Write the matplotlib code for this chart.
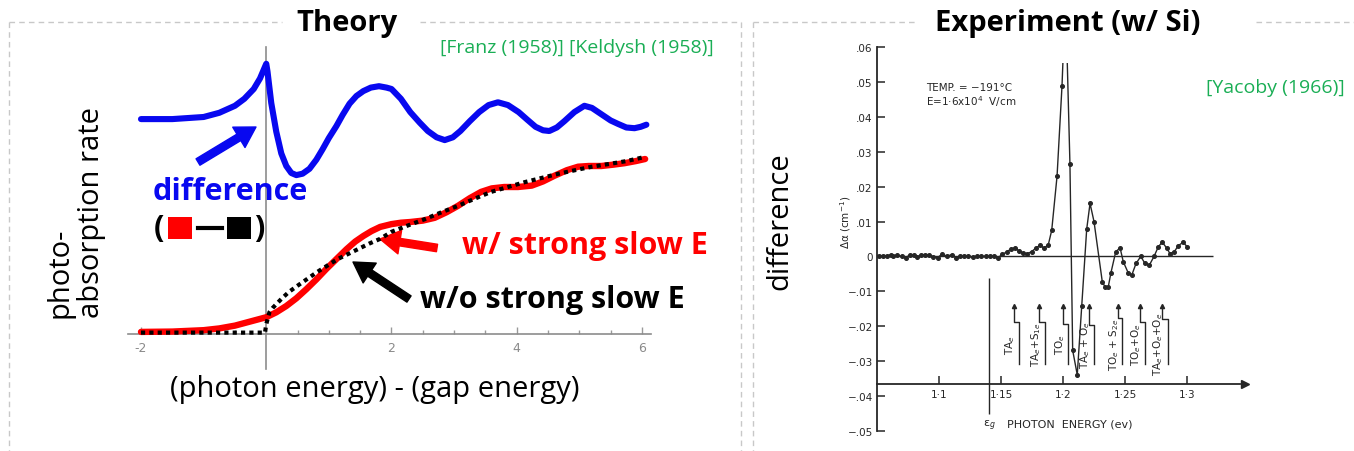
import numpy as np
import matplotlib
matplotlib.use('Agg')
import matplotlib.pyplot as plt
from matplotlib.patches import Rectangle
from matplotlib.lines import Line2D

# ---- theory panel (Franz-Keldysh) ----
blue_x = [-2.0, -1.5, -1.0, -0.75, -0.5, -0.35, -0.2, -0.1, 0.0, 0.02, 0.08, 0.16, 0.24,
          0.32, 0.4, 0.48, 0.58, 0.69, 0.8, 0.9, 1.0, 1.12, 1.22, 1.33, 1.44, 1.55, 1.67,
          1.8, 1.92, 2.0, 2.15, 2.3, 2.45, 2.58, 2.72, 2.85, 2.98, 3.1, 3.25, 3.4, 3.55,
          3.7, 3.86, 4.03, 4.17, 4.3, 4.42, 4.52, 4.64, 4.76, 4.92, 5.08, 5.2, 5.35, 5.5,
          5.62, 5.75, 5.88, 5.98, 6.07]
blue_y = [3.07, 3.07, 3.10, 3.16, 3.26, 3.36, 3.50, 3.65, 3.86, 3.75, 3.30, 2.89, 2.58,
          2.40, 2.30, 2.27, 2.29, 2.36, 2.49, 2.64, 2.80, 2.97, 3.13, 3.29, 3.40, 3.47, 3.52,
          3.54, 3.52, 3.50, 3.36, 3.17, 3.02, 2.90, 2.81, 2.77, 2.81, 2.90, 3.04, 3.17, 3.27,
          3.31, 3.27, 3.17, 3.06, 2.96, 2.91, 2.90, 2.95, 3.04, 3.17, 3.26, 3.23, 3.14, 3.05,
          3.00, 2.95, 2.94, 2.96, 2.99]

red_x = [-2.0, -1.5, -1.0, -0.75, -0.5, -0.25, 0.0, 0.16, 0.32, 0.48, 0.64, 0.8, 0.96,
         1.12, 1.28, 1.42, 1.55, 1.68, 1.82, 2.0, 2.15, 2.3, 2.5, 2.69, 2.88, 3.06, 3.25,
         3.43, 3.6, 3.8, 4.02, 4.24, 4.42, 4.6, 4.8, 4.98, 5.15, 5.35, 5.55, 5.72, 5.9, 6.05]
red_y = [0.03, 0.035, 0.055, 0.08, 0.12, 0.18, 0.24, 0.31, 0.40, 0.51, 0.64, 0.78, 0.93,
         1.07, 1.21, 1.32, 1.40, 1.47, 1.53, 1.57, 1.59, 1.60, 1.62, 1.66, 1.74, 1.83, 1.94,
         2.03, 2.08, 2.10, 2.10, 2.12, 2.18, 2.26, 2.34, 2.39, 2.40, 2.40, 2.42, 2.44, 2.47, 2.50]

black_x = [-2.0, -0.02, 0.0, 0.05, 0.1, 0.24, 0.36, 0.5, 0.66, 0.82, 0.98, 1.14, 1.3,
           1.46, 1.64, 1.82, 2.0, 2.26, 2.53, 2.8, 3.06, 3.32, 3.59, 3.86, 4.13, 4.4, 4.67,
           4.93, 5.2, 5.48, 5.75, 6.05]
black_y = [0.02, 0.02, 0.14, 0.31, 0.37, 0.50, 0.60, 0.69, 0.79, 0.89, 0.98, 1.07, 1.14,
           1.21, 1.29, 1.36, 1.46, 1.55, 1.64, 1.74, 1.83, 1.93, 2.03, 2.10, 2.17, 2.23, 2.29,
           2.34, 2.39, 2.43, 2.47, 2.53]

theory_ticks = [-2, 2, 4, 6]
theory_ticklabels = ['-2', '2', '4', '6']

# ---- experiment panel (Yacoby 1966) ----
exp_e = [1.0519, 1.0551, 1.0578, 1.0610, 1.0631, 1.0659, 1.0699, 1.0734, 1.0766, 1.0801,
         1.0825, 1.0855, 1.0887, 1.0922, 1.0954, 1.0990, 1.1022, 1.1067, 1.1102, 1.1137,
         1.1169, 1.1204, 1.1236, 1.1272, 1.1304, 1.1339, 1.1379, 1.1411, 1.1444, 1.1478,
         1.1510, 1.1546, 1.1578, 1.1613, 1.1648, 1.1680, 1.1712, 1.1748, 1.1780, 1.1815,
         1.1847, 1.1881, 1.1909, 1.1952, 1.1992,
         1.2056, 1.2078, 1.2115, 1.2151, 1.2191, 1.2218, 1.2250, 1.2317, 1.2339, 1.2365,
         1.2387, 1.2425, 1.2460, 1.2486, 1.2527, 1.2554, 1.2589, 1.2627, 1.2661, 1.2696,
         1.2734, 1.2769, 1.2801, 1.2836, 1.2863, 1.2898, 1.2930, 1.2970, 1.3002]
exp_da = [0, 0, 0.0001, 0.0005, 0, 0.0005, 0, -0.0003, 0.0005, 0.0003,
          -0.0002, 0.0005, 0.0005, 0.0005, -0.0002, -0.0003, 0.0006, 0.0001, 0.0005, -0.0003,
          0, 0, 0.0001, -0.0002, 0, 0, 0, 0, 0, -0.0003,
          0.0006, 0.0013, 0.0021, 0.0025, 0.0015, 0.0010, 0.0008, 0.0014, 0.0024, 0.0032,
          0.0024, 0.0033, 0.0075, 0.0230, 0.0489,
          0.0264, -0.0269, -0.0339, -0.0142, 0.0078, 0.0152, 0.0100, -0.0073, -0.0087, -0.0087,
          -0.0046, 0.0013, 0.0025, -0.0015, -0.0048, -0.0054, -0.0020, 0.0000, -0.0020, -0.0025,
          0.0, 0.0028, 0.0041, 0.0024, 0.0008, 0.0014, 0.0031, 0.0041, 0.0027]
# the main peak runs off the top of the original figure
peak_e, peak_da = 1.2020, 0.075

# phonon-assisted thresholds: arrow position, foot position, step height
trans_labels = ['TA$_e$', 'TA$_e$+S$_{1e}$', 'TO$_e$', 'TA$_e$ + O$_e$',
                'TO$_e$ + S$_{2e}$', 'TO$_e$+O$_e$', 'TA$_e$+O$_e$+O$_e$']
trans_top = [1.1605, 1.1810, 1.2004, 1.2210, 1.2444, 1.2621, 1.2798]
trans_foot = [1.1649, 1.1851, 1.2044, 1.2250, 1.2476, 1.2661, 1.2847]
trans_step = [-0.0187, -0.0187, -0.0193, -0.0195, -0.0176, -0.0187, -0.0178]
gap_e = 1.140

exp_yticks = [-0.05, -0.04, -0.03, -0.02, -0.01, 0, 0.01, 0.02, 0.03, 0.04, 0.05, 0.06]
exp_yticklabels = ['\u2212.05', '\u2212.04', '\u2212.03', '\u2212.02', '\u2212.01', '0',
                   '.01', '.02', '.03', '.04', '.05', '.06']
exp_xticks = [1.1, 1.15, 1.2, 1.25, 1.3]
exp_xticklabels = ['1\u00b71', '1\u00b715', '1\u00b72', '1\u00b725', '1\u00b73']

W, H = 1354, 452
SLIDE = 'Open Sans'
SCAN = 'DejaVu Sans'
GREEN = '#1aae55'
BLUE = '#0808f0'
INK = '#262626'


def fx(px):
    return px / W


def fy(py):
    return 1 - py / H


plt.rcParams['font.family'] = [SLIDE, 'DejaVu Sans']
fig = plt.figure(figsize=(W / 100, H / 100), dpi=100)


def dashed(xs, ys):
    fig.add_artist(Line2D([fx(x) for x in xs], [fy(y) for y in ys], color='#c8c8c8',
                          lw=1, ls=(0, (4, 3))))


dashed([9, 9], [23, 452])
dashed([9, 282], [23, 23])
dashed([420, 741], [23, 23])
dashed([741, 741], [23, 452])
dashed([753, 753], [23, 452])
dashed([753, 916], [23, 23])
dashed([1256, 1354], [23, 23])

# ---------------- left: theory ----------------
ax1 = fig.add_axes([fx(125), fy(375), (655 - 125) / W, (375 - 40) / H])
ax1.patch.set_alpha(0)
ax1.set_xlim(-2.2555, 6.2076)
ax1.set_ylim(-0.571, 4.214)
for s in ['top', 'right', 'left']:
    ax1.spines[s].set_visible(False)
ax1.spines['bottom'].set_position(('data', 0))
ax1.spines['bottom'].set_bounds(-2.2, 6.15)
ax1.spines['bottom'].set_color('#8c8c8c')
ax1.spines['bottom'].set_linewidth(1.2)
ax1.plot([0, 0], [-0.5, 4.1], color='#8c8c8c', lw=1.2, zorder=1)
ax1.set_yticks([])
ax1.set_xticks(theory_ticks)
ax1.set_xticklabels(theory_ticklabels, family='DejaVu Sans')
ax1.set_xticks(np.arange(-2, 6.01, 0.5), minor=True)
ax1.tick_params(axis='x', which='major', direction='in', length=5, width=1, color='#999999',
                labelsize=9, labelcolor='#8a8a8a', pad=5)
ax1.tick_params(axis='x', which='minor', direction='in', length=3, width=1, color='#999999')

ax1.plot(blue_x, blue_y, color=BLUE, lw=4.4, solid_capstyle='round', solid_joinstyle='round', zorder=3)
ax1.plot(red_x, red_y, color='#ff0000', lw=4.6, solid_capstyle='round', solid_joinstyle='round', zorder=3)
ax1.plot(black_x, black_y, color='black', lw=3.0, ls=(0, (1, 1)), dash_capstyle='butt', zorder=4)


def arrow(tail, tip, color):
    ax1.annotate('', xy=(tip[0], H - tip[1]), xycoords='figure pixels',
                 xytext=(tail[0], H - tail[1]), textcoords='figure pixels',
                 annotation_clip=False,
                 arrowprops=dict(arrowstyle='simple,head_length=0.8,head_width=0.95,tail_width=0.3',
                                 color=color, shrinkA=0, shrinkB=0, mutation_scale=18))


arrow((198, 163), (256, 128), BLUE)
arrow((437, 249), (380, 240), '#ff0000')
arrow((409, 300), (353, 263), 'black')

fig.text(fx(347), fy(23), 'Theory', ha='center', va='center', fontsize=21, weight='bold')
fig.text(fx(577), fy(48), '[Franz (1958)] [Keldysh (1958)]', ha='center', va='center',
         fontsize=14, color=GREEN)
fig.text(fx(230), fy(192), 'difference', ha='center', va='center', fontsize=22,
         weight='bold', color=BLUE)
fig.text(fx(159), fy(229), '(', ha='center', va='center', fontsize=22, weight='bold')
fig.text(fx(259), fy(229), ')', ha='center', va='center', fontsize=22, weight='bold')
fig.add_artist(Rectangle((fx(168), fy(240)), 24 / W, 22 / H, color='#ff0000', lw=0))
fig.add_artist(Line2D([fx(198), fx(222)], [fy(229), fy(229)], color='black', lw=3))
fig.add_artist(Rectangle((fx(227), fy(240)), 24 / W, 22 / H, color='black', lw=0))
fig.text(fx(462), fy(246), 'w/ strong slow E', ha='left', va='center', fontsize=22,
         weight='bold', color='#ff0000')
fig.text(fx(420), fy(300), 'w/o strong slow E', ha='left', va='center', fontsize=22,
         weight='bold', color='black')
fig.text(fx(375), fy(390), '(photon energy) - (gap energy)', ha='center', va='center',
         fontsize=21)
fig.text(fx(76), fy(318), 'photo-\nabsorption rate', ha='center', va='bottom',
         rotation=90, multialignment='left', fontsize=21, linespacing=1.1)

# ---------------- right: experiment ----------------
ax2 = fig.add_axes([fx(877), fy(432), (1250 - 877) / W, (432 - 48) / H])
ax2.patch.set_alpha(0)
ax2.set_xlim(1.05, 1.3508)
ax2.set_ylim(-0.05, 0.06)
for s in ['top', 'right']:
    ax2.spines[s].set_visible(False)
ax2.spines['left'].set_color(INK)
ax2.spines['left'].set_linewidth(1.3)
ax2.spines['bottom'].set_position(('data', -0.0365))
ax2.spines['bottom'].set_bounds(1.05, 1.343)
ax2.spines['bottom'].set_color(INK)
ax2.spines['bottom'].set_linewidth(1.3)
ax2.plot([1.3468], [-0.0365], marker='>', ms=6, color=INK, clip_on=False)
ax2.set_yticks(exp_yticks)
ax2.set_yticklabels(exp_yticklabels, family=SCAN)
ax2.set_xticks(exp_xticks)
ax2.set_xticklabels(exp_xticklabels, family=SCAN)
ax2.tick_params(axis='y', direction='in', length=6, width=1.1, color=INK, labelsize=7.5,
                labelcolor=INK, pad=3)
ax2.tick_params(axis='x', direction='in', length=6, width=1.1, color=INK, labelsize=7.5,
                labelcolor=INK, pad=4)

ax2.hlines(0, 1.05, 1.321, color=INK, lw=1)
ax2.vlines(gap_e, -0.045, -0.0063, color=INK, lw=1)

line_e = list(exp_e[:45]) + [peak_e] + list(exp_e[45:])
line_da = list(exp_da[:45]) + [peak_da] + list(exp_da[45:])
ln, = ax2.plot(line_e, line_da, color=INK, lw=1)
ln.set_clip_path(Rectangle((1.05, -0.05), 0.31, 0.1055, transform=ax2.transData))
ax2.plot(exp_e, exp_da, ls='none', marker='o', ms=2.6, color=INK)

for lab, xt, xf, ys in zip(trans_labels, trans_top, trans_foot, trans_step):
    ax2.plot([xf, xf, xt, xt], [-0.0307, ys, ys, -0.0143], color=INK, lw=1)
    ax2.plot([xt], [-0.0141], marker='^', ms=3, color=INK)
    ax2.text(xt - 0.003, -0.025, lab, rotation=90, ha='center', va='center',
             fontsize=7.5, color=INK, family=SCAN)

fig.text(fx(926), fy(88), 'TEMP. = \u2212191\u00b0C', ha='left', va='center', fontsize=7.5,
         color=INK, family=SCAN)
fig.text(fx(926), fy(102), 'E=1\u00b76x10$^4$  V/cm', ha='left', va='center', fontsize=7.5,
         color=INK, family=SCAN)
fig.text(fx(989), fy(426), '\u03b5$_g$', ha='center', va='center', fontsize=8,
         color=INK, family=SCAN)
fig.text(fx(1070), fy(425), 'PHOTON  ENERGY (ev)', ha='center', va='center', fontsize=8,
         color=INK, family=SCAN)
fig.text(fx(846), fy(222), '\u0394\u03b1 (cm$^{-1}$)', ha='center', va='center', rotation=90,
         fontsize=7.5, color=INK, family=SCAN)

fig.text(fx(1068), fy(23), 'Experiment (w/ Si)', ha='center', va='center', fontsize=21,
         weight='bold')
fig.text(fx(1275), fy(88), '[Yacoby (1966)]', ha='center', va='center', fontsize=14,
         color=GREEN)
fig.text(fx(780), fy(221), 'difference', ha='center', va='center', rotation=90, fontsize=21)

fig.savefig('out.png', dpi=100)
